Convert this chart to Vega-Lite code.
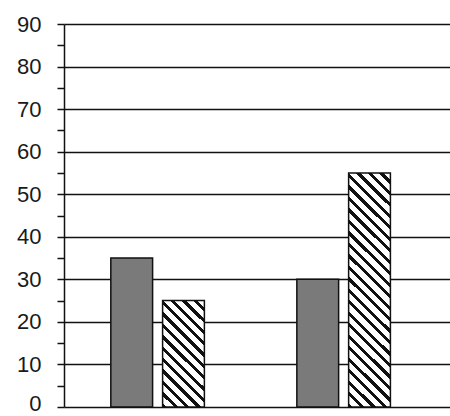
{
  "$schema": "https://vega.github.io/schema/vega-lite/v6.json",
  "width": 386,
  "height": 383,
  "autosize": {"type": "none"},
  "padding": {"left": 64, "top": 24, "right": 0, "bottom": 9},
  "background": "white",
  "config": {"view": {"stroke": null}},
  "data": {"values": [
    {"group": "A", "series": "s1", "value": 35},
    {"group": "A", "series": "s2", "value": 25},
    {"group": "B", "series": "s1", "value": 30},
    {"group": "B", "series": "s2", "value": 55}
  ]},
  "encoding": {
    "x": {"field": "group", "type": "nominal", "axis": null,
      "scale": {"domain": ["A", "B"], "paddingInner": 0.497, "paddingOuter": 0.286, "align": 0.44}},
    "xOffset": {"field": "series", "type": "nominal",
      "scale": {"domain": ["s1", "s2"], "paddingInner": 0.193, "paddingOuter": 0}},
    "y": {"field": "value", "type": "quantitative",
      "scale": {"domain": [0, 90], "nice": false},
      "axis": {
        "title": null,
        "values": [0,5,10,15,20,25,30,35,40,45,50,55,60,65,70,75,80,85,90],
        "labelExpr": "datum.value % 10 === 0 ? datum.label : ''",
        "labelFont": "Liberation Sans",
        "labelFontSize": 22,
        "labelColor": "#1a1a1a",
        "labelPadding": 16,
        "labelOffset": {"condition": {"test": "datum.value === 0", "value": -4}, "value": 0},
        "tickSize": 7,
        "tickColor": "#111",
        "tickWidth": 1.5,
        "domainColor": "#111",
        "domainWidth": 1.5,
        "grid": true,
        "gridColor": "#111",
        "gridWidth": 1.4,
        "gridOpacity": {"condition": {"test": "datum.value % 10 === 0", "value": 1}, "value": 0}
      }}
  },
  "layer": [
    {
      "transform": [{"filter": "datum.series === 's1'"}],
      "mark": {"type": "bar", "fill": "#7a7a7a", "stroke": "#111", "strokeWidth": 1.5}
    },
    {
      "transform": [{"filter": "datum.series === 's2' && datum.group === 'A'"}],
      "mark": {"type": "bar", "stroke": "#111", "strokeWidth": 1.5,
        "fill": {"gradient": "linear", "x1": 0, "y1": 1, "x2": 0.4722, "y2": -0.2066,
          "stops": [
            {"offset": 0, "color": "#111"}, {"offset": 0.0292, "color": "#111"}, {"offset": 0.0292, "color": "#fff"}, {"offset": 0.0769, "color": "#fff"},
            {"offset": 0.0769, "color": "#111"}, {"offset": 0.1061, "color": "#111"}, {"offset": 0.1061, "color": "#fff"}, {"offset": 0.1538, "color": "#fff"},
            {"offset": 0.1538, "color": "#111"}, {"offset": 0.1830, "color": "#111"}, {"offset": 0.1830, "color": "#fff"}, {"offset": 0.2308, "color": "#fff"},
            {"offset": 0.2308, "color": "#111"}, {"offset": 0.2600, "color": "#111"}, {"offset": 0.2600, "color": "#fff"}, {"offset": 0.3077, "color": "#fff"},
            {"offset": 0.3077, "color": "#111"}, {"offset": 0.3369, "color": "#111"}, {"offset": 0.3369, "color": "#fff"}, {"offset": 0.3846, "color": "#fff"},
            {"offset": 0.3846, "color": "#111"}, {"offset": 0.4138, "color": "#111"}, {"offset": 0.4138, "color": "#fff"}, {"offset": 0.4615, "color": "#fff"},
            {"offset": 0.4615, "color": "#111"}, {"offset": 0.4907, "color": "#111"}, {"offset": 0.4907, "color": "#fff"}, {"offset": 0.5385, "color": "#fff"},
            {"offset": 0.5385, "color": "#111"}, {"offset": 0.5677, "color": "#111"}, {"offset": 0.5677, "color": "#fff"}, {"offset": 0.6154, "color": "#fff"},
            {"offset": 0.6154, "color": "#111"}, {"offset": 0.6446, "color": "#111"}, {"offset": 0.6446, "color": "#fff"}, {"offset": 0.6923, "color": "#fff"},
            {"offset": 0.6923, "color": "#111"}, {"offset": 0.7215, "color": "#111"}, {"offset": 0.7215, "color": "#fff"}, {"offset": 0.7692, "color": "#fff"},
            {"offset": 0.7692, "color": "#111"}, {"offset": 0.7984, "color": "#111"}, {"offset": 0.7984, "color": "#fff"}, {"offset": 0.8462, "color": "#fff"},
            {"offset": 0.8462, "color": "#111"}, {"offset": 0.8754, "color": "#111"}, {"offset": 0.8754, "color": "#fff"}, {"offset": 0.9231, "color": "#fff"},
            {"offset": 0.9231, "color": "#111"}, {"offset": 0.9523, "color": "#111"}, {"offset": 0.9523, "color": "#fff"}, {"offset": 1, "color": "#fff"}
          ]}}
    },
    {
      "transform": [{"filter": "datum.series === 's2' && datum.group === 'B'"}],
      "mark": {"type": "bar", "stroke": "#111", "strokeWidth": 1.5,
        "fill": {"gradient": "linear", "x1": 0, "y1": 1, "x2": 0.2031, "y2": -0.1418,
          "stops": [
            {"offset": 0, "color": "#111"}, {"offset": 0.0158, "color": "#111"}, {"offset": 0.0158, "color": "#fff"}, {"offset": 0.0417, "color": "#fff"},
            {"offset": 0.0417, "color": "#111"}, {"offset": 0.0575, "color": "#111"}, {"offset": 0.0575, "color": "#fff"}, {"offset": 0.0833, "color": "#fff"},
            {"offset": 0.0833, "color": "#111"}, {"offset": 0.0991, "color": "#111"}, {"offset": 0.0991, "color": "#fff"}, {"offset": 0.1250, "color": "#fff"},
            {"offset": 0.1250, "color": "#111"}, {"offset": 0.1408, "color": "#111"}, {"offset": 0.1408, "color": "#fff"}, {"offset": 0.1667, "color": "#fff"},
            {"offset": 0.1667, "color": "#111"}, {"offset": 0.1825, "color": "#111"}, {"offset": 0.1825, "color": "#fff"}, {"offset": 0.2083, "color": "#fff"},
            {"offset": 0.2083, "color": "#111"}, {"offset": 0.2241, "color": "#111"}, {"offset": 0.2241, "color": "#fff"}, {"offset": 0.2500, "color": "#fff"},
            {"offset": 0.2500, "color": "#111"}, {"offset": 0.2658, "color": "#111"}, {"offset": 0.2658, "color": "#fff"}, {"offset": 0.2917, "color": "#fff"},
            {"offset": 0.2917, "color": "#111"}, {"offset": 0.3075, "color": "#111"}, {"offset": 0.3075, "color": "#fff"}, {"offset": 0.3333, "color": "#fff"},
            {"offset": 0.3333, "color": "#111"}, {"offset": 0.3491, "color": "#111"}, {"offset": 0.3491, "color": "#fff"}, {"offset": 0.3750, "color": "#fff"},
            {"offset": 0.3750, "color": "#111"}, {"offset": 0.3908, "color": "#111"}, {"offset": 0.3908, "color": "#fff"}, {"offset": 0.4167, "color": "#fff"},
            {"offset": 0.4167, "color": "#111"}, {"offset": 0.4325, "color": "#111"}, {"offset": 0.4325, "color": "#fff"}, {"offset": 0.4583, "color": "#fff"},
            {"offset": 0.4583, "color": "#111"}, {"offset": 0.4741, "color": "#111"}, {"offset": 0.4741, "color": "#fff"}, {"offset": 0.5000, "color": "#fff"},
            {"offset": 0.5000, "color": "#111"}, {"offset": 0.5158, "color": "#111"}, {"offset": 0.5158, "color": "#fff"}, {"offset": 0.5417, "color": "#fff"},
            {"offset": 0.5417, "color": "#111"}, {"offset": 0.5575, "color": "#111"}, {"offset": 0.5575, "color": "#fff"}, {"offset": 0.5833, "color": "#fff"},
            {"offset": 0.5833, "color": "#111"}, {"offset": 0.5991, "color": "#111"}, {"offset": 0.5991, "color": "#fff"}, {"offset": 0.6250, "color": "#fff"},
            {"offset": 0.6250, "color": "#111"}, {"offset": 0.6408, "color": "#111"}, {"offset": 0.6408, "color": "#fff"}, {"offset": 0.6667, "color": "#fff"},
            {"offset": 0.6667, "color": "#111"}, {"offset": 0.6825, "color": "#111"}, {"offset": 0.6825, "color": "#fff"}, {"offset": 0.7083, "color": "#fff"},
            {"offset": 0.7083, "color": "#111"}, {"offset": 0.7241, "color": "#111"}, {"offset": 0.7241, "color": "#fff"}, {"offset": 0.7500, "color": "#fff"},
            {"offset": 0.7500, "color": "#111"}, {"offset": 0.7658, "color": "#111"}, {"offset": 0.7658, "color": "#fff"}, {"offset": 0.7917, "color": "#fff"},
            {"offset": 0.7917, "color": "#111"}, {"offset": 0.8075, "color": "#111"}, {"offset": 0.8075, "color": "#fff"}, {"offset": 0.8333, "color": "#fff"},
            {"offset": 0.8333, "color": "#111"}, {"offset": 0.8491, "color": "#111"}, {"offset": 0.8491, "color": "#fff"}, {"offset": 0.8750, "color": "#fff"},
            {"offset": 0.8750, "color": "#111"}, {"offset": 0.8908, "color": "#111"}, {"offset": 0.8908, "color": "#fff"}, {"offset": 0.9167, "color": "#fff"},
            {"offset": 0.9167, "color": "#111"}, {"offset": 0.9325, "color": "#111"}, {"offset": 0.9325, "color": "#fff"}, {"offset": 0.9583, "color": "#fff"},
            {"offset": 0.9583, "color": "#111"}, {"offset": 0.9741, "color": "#111"}, {"offset": 0.9741, "color": "#fff"}, {"offset": 1, "color": "#fff"}
          ]}}
    }
  ]
}
